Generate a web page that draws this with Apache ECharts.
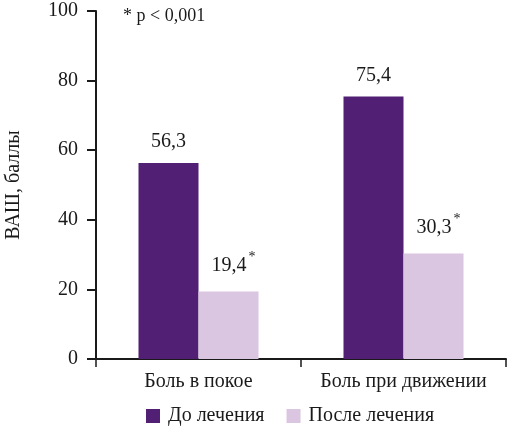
<!DOCTYPE html>
<html>
<head>
<meta charset="utf-8" />
<title>ВАШ</title>
<script src="https://cdn.jsdelivr.net/npm/echarts@6/dist/echarts.min.js"></script>
<style>
  html, body { margin: 0; padding: 0; background: #fff; }
  #chart { width: 511px; height: 427px; }
</style>
</head>
<body>
<div id="chart"></div>
<script>
var categories = ['Боль в покое', 'Боль при движении'];
var seriesNames = ['До лечения', 'После лечения'];
var beforeValues = [56.3, 75.4];
var afterValues = [19.4, 30.3];
var yTicks = [0, 20, 40, 60, 80, 100];

var font = '"Liberation Serif", "DejaVu Serif", serif';
var ink = '#1a1a1a';
var fs = 20;

function fmt(v) {
  return String(v).replace('.', ',');
}

var chart = echarts.init(document.getElementById('chart'));

var option = {
  animation: false,
  textStyle: { fontFamily: font, color: ink },
  grid: { left: 96, right: 5, top: 11, bottom: 68, outerBoundsMode: 'none', containLabel: false },
  legend: {
    bottom: 1,
    left: 146,
    padding: 0,
    itemWidth: 14,
    itemHeight: 14,
    itemGap: 22,
    icon: 'rect',
    textStyle: { fontFamily: font, fontSize: fs, color: ink, padding: [0, 0, 0, 3] },
    data: seriesNames
  },
  graphic: [{
    type: 'text',
    left: 123,
    top: 7,
    style: { text: '* p < 0,001', font: '18px ' + font, fill: ink }
  }],
  xAxis: {
    type: 'category',
    data: categories,
    axisLine: { lineStyle: { color: ink, width: 2 } },
    axisTick: { show: true, length: 8, lineStyle: { color: ink, width: 1.5 } },
    axisLabel: { fontFamily: font, fontSize: fs, color: ink, margin: 13, interval: 0, hideOverlap: false }
  },
  yAxis: {
    type: 'value',
    min: yTicks[0],
    max: yTicks[yTicks.length - 1],
    interval: 20,
    name: 'ВАШ, баллы',
    nameLocation: 'middle',
    nameGap: 72,
    nameTextStyle: { fontFamily: font, fontSize: fs, color: ink },
    axisLine: { show: true, lineStyle: { color: ink, width: 2 } },
    axisTick: { show: true, length: 9, lineStyle: { color: ink, width: 2 } },
    axisLabel: { fontFamily: font, fontSize: fs, color: ink, margin: 18 },
    splitLine: { show: false }
  },
  series: [{
    name: seriesNames[0],
    type: 'bar',
    data: beforeValues,
    barWidth: 60,
    barGap: '0%',
    itemStyle: { color: '#511f73' },
    label: {
      show: true,
      position: 'top',
      distance: 11,
      fontFamily: font,
      fontSize: fs,
      color: ink,
      formatter: function (p) { return fmt(p.value); }
    }
  }, {
    name: seriesNames[1],
    type: 'bar',
    data: afterValues,
    barWidth: 60,
    itemStyle: { color: '#dac6e0' },
    label: {
      show: true,
      position: 'top',
      distance: 11,
      fontFamily: font,
      fontSize: fs,
      color: ink,
      formatter: function (p) { return '{v|' + fmt(p.value) + '}{s|*}'; },
      rich: {
        v: { fontFamily: font, fontSize: fs, color: ink, padding: [0, 0, 0, 10] },
        s: { fontFamily: font, fontSize: 14, color: ink, padding: [0, 0, 16, 2] }
      }
    }
  }]
};

chart.setOption(option);
</script>
</body>
</html>
